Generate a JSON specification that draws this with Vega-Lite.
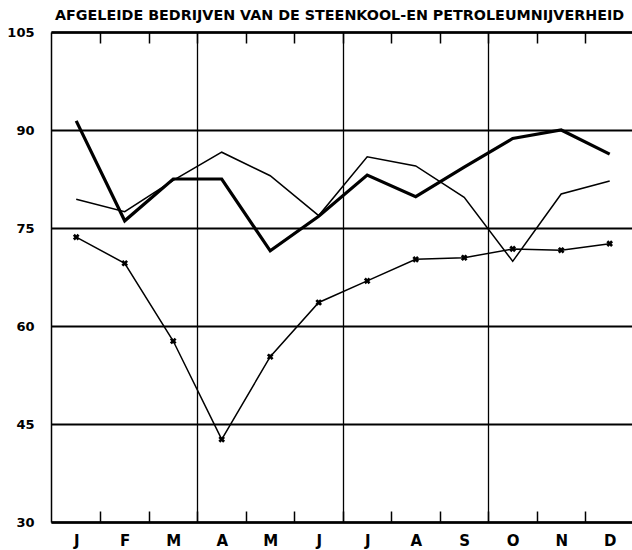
{
  "$schema": "https://vega.github.io/schema/vega-lite/v6.json",
  "width": 581,
  "height": 490,
  "autosize": "none",
  "padding": {"left": 51, "top": 32, "right": 0, "bottom": 28},
  "background": "white",
  "title": {
    "text": "AFGELEIDE BEDRIJVEN VAN DE STEENKOOL-EN PETROLEUMNIJVERHEID",
    "anchor": "start",
    "frame": "group",
    "dx": 4,
    "offset": -8,
    "baseline": "alphabetic",
    "font": "DejaVu Sans",
    "fontSize": 14.3,
    "fontWeight": "bold",
    "color": "black"
  },
  "config": {"view": {"stroke": null}},
  "data": {
    "values": [
      {"maand": 1, "reeks": "A", "waarde": 91.4},
      {"maand": 2, "reeks": "A", "waarde": 76.1},
      {"maand": 3, "reeks": "A", "waarde": 82.5},
      {"maand": 4, "reeks": "A", "waarde": 82.5},
      {"maand": 5, "reeks": "A", "waarde": 71.5},
      {"maand": 6, "reeks": "A", "waarde": 76.8},
      {"maand": 7, "reeks": "A", "waarde": 83.1},
      {"maand": 8, "reeks": "A", "waarde": 79.8},
      {"maand": 9, "reeks": "A", "waarde": 84.3},
      {"maand": 10, "reeks": "A", "waarde": 88.7},
      {"maand": 11, "reeks": "A", "waarde": 90.0},
      {"maand": 12, "reeks": "A", "waarde": 86.3},
      {"maand": 1, "reeks": "B", "waarde": 79.4},
      {"maand": 2, "reeks": "B", "waarde": 77.5},
      {"maand": 3, "reeks": "B", "waarde": 82.3},
      {"maand": 4, "reeks": "B", "waarde": 86.6},
      {"maand": 5, "reeks": "B", "waarde": 83.0},
      {"maand": 6, "reeks": "B", "waarde": 76.9},
      {"maand": 7, "reeks": "B", "waarde": 85.9},
      {"maand": 8, "reeks": "B", "waarde": 84.5},
      {"maand": 9, "reeks": "B", "waarde": 79.7},
      {"maand": 10, "reeks": "B", "waarde": 69.9},
      {"maand": 11, "reeks": "B", "waarde": 80.2},
      {"maand": 12, "reeks": "B", "waarde": 82.2},
      {"maand": 1, "reeks": "C", "waarde": 73.6},
      {"maand": 2, "reeks": "C", "waarde": 69.6},
      {"maand": 3, "reeks": "C", "waarde": 57.7},
      {"maand": 4, "reeks": "C", "waarde": 42.65},
      {"maand": 5, "reeks": "C", "waarde": 55.3},
      {"maand": 6, "reeks": "C", "waarde": 63.6},
      {"maand": 7, "reeks": "C", "waarde": 66.9},
      {"maand": 8, "reeks": "C", "waarde": 70.2},
      {"maand": 9, "reeks": "C", "waarde": 70.45},
      {"maand": 10, "reeks": "C", "waarde": 71.8},
      {"maand": 11, "reeks": "C", "waarde": 71.6},
      {"maand": 12, "reeks": "C", "waarde": 72.6}
    ]
  },
  "encoding": {
    "y": {
      "field": "waarde",
      "type": "quantitative",
      "scale": {"domain": [30, 105], "nice": false, "zero": false},
      "axis": {
        "values": [30, 45, 60, 75, 90, 105],
        "title": null,
        "grid": true,
        "gridColor": "black",
        "gridWidth": 2,
        "gridOpacity": 1,
        "domain": true,
        "domainColor": "black",
        "domainWidth": 1.5,
        "ticks": false,
        "labelPadding": 17,
        "labelFont": "DejaVu Sans",
        "labelFontSize": 13,
        "labelFontWeight": "bold",
        "labelColor": "black"
      }
    }
  },
  "layer": [
    {
      "transform": [{"filter": "datum.reeks == 'B'"}],
      "mark": {"type": "line", "color": "black", "strokeWidth": 1.5},
      "encoding": {
        "x": {
          "field": "maand",
          "type": "quantitative",
          "scale": {"domain": [0.48, 12.46], "nice": false, "zero": false},
          "axis": {
            "orient": "top",
            "values": [1.5, 2.5, 3.5, 4.5, 5.5, 6.5, 7.5, 8.5, 9.5, 10.5, 11.5],
            "labels": false,
            "title": null,
            "ticks": true,
            "tickSize": -11,
            "tickColor": "black",
            "tickWidth": 1.5,
            "domain": true,
            "domainColor": "black",
            "domainWidth": 2.5,
            "grid": false
          }
        }
      }
    },
    {
      "transform": [{"filter": "datum.reeks == 'A'"}],
      "mark": {"type": "line", "color": "black", "strokeWidth": 3.2},
      "encoding": {
        "x": {
          "field": "maand",
          "type": "quantitative",
          "axis": {
            "orient": "bottom",
            "values": [1, 1.5, 2, 2.5, 3, 3.5, 4, 4.5, 5, 5.5, 6, 6.5, 7, 7.5, 8, 8.5, 9, 9.5, 10, 10.5, 11, 11.5, 12],
            "labelExpr": "datum.value % 1 == 0 ? ['J','F','M','A','M','J','J','A','S','O','N','D'][datum.value - 1] : ''",
            "labelFont": "DejaVu Sans",
            "labelFontSize": 15,
            "labelFontWeight": "bold",
            "labelColor": "black",
            "labelPadding": 22,
            "labelOverlap": false,
            "labelFlush": false,
            "labelBound": false,
            "title": null,
            "ticks": true,
            "tickSize": -11,
            "tickColor": "black",
            "tickWidth": 1.5,
            "tickOpacity": {"condition": {"test": "datum.value % 1 != 0", "value": 1}, "value": 0},
            "domain": true,
            "domainColor": "black",
            "domainWidth": 2.5,
            "grid": true,
            "gridColor": "black",
            "gridWidth": 1.3,
            "gridOpacity": {"condition": {"test": "datum.value == 3.5 || datum.value == 6.5 || datum.value == 9.5", "value": 1}, "value": 0}
          }
        }
      }
    },
    {
      "transform": [{"filter": "datum.reeks == 'C'"}],
      "mark": {"type": "line", "color": "black", "strokeWidth": 1.5},
      "encoding": {
        "x": {"field": "maand", "type": "quantitative", "axis": null}
      }
    },
    {
      "transform": [{"filter": "datum.reeks == 'C'"}],
      "mark": {"type": "point", "shape": "cross", "angle": 45, "filled": true, "size": 45, "color": "black", "opacity": 1},
      "encoding": {
        "x": {"field": "maand", "type": "quantitative", "axis": null}
      }
    }
  ],
  "resolve": {"axis": {"x": "independent"}}
}
